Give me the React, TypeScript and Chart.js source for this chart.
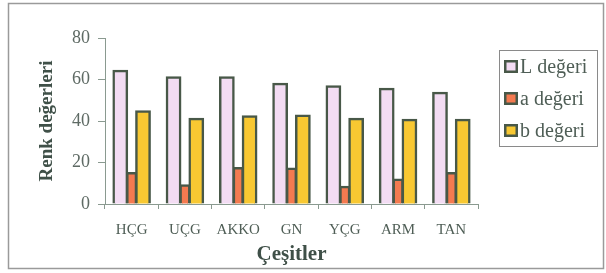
import React, { useEffect, useRef } from "react";
import { Chart, registerables } from "chart.js";

Chart.register(...registerables);

const categories = ["HÇG", "UÇG", "AKKO", "GN", "YÇG", "ARM", "TAN"];
const seriesNames = ["L değeri", "a değeri", "b değeri"];
const lValues = [64.5, 61.3, 61.3, 58.2, 57.0, 55.8, 53.8];
const aValues = [15.2, 9.3, 17.6, 17.3, 8.5, 12.0, 15.2];
const bValues = [45.0, 41.3, 42.5, 42.9, 41.3, 40.9, 40.9];
const fills = ["#f3dcf3", "#f47a50", "#f8c832"];
const yTicks = [0, 20, 40, 60, 80];

const BORDER = "#485848";
const TEXT = "#4f5e56";
const AXIS = "#8a9a90";

const framePlugin = {
  id: "framePlugin",
  afterDraw(chart: any) {
    const ctx = chart.ctx;
    ctx.save();
    ctx.strokeStyle = "#9a9a9a";
    ctx.lineWidth = 1.5;
    ctx.strokeRect(8.5, 3.5, 595, 265);
    // legend
    const bx = 499.5, by = 50.5, bw = 98, bh = 96;
    ctx.strokeStyle = "#8a8a8a";
    ctx.lineWidth = 1;
    ctx.strokeRect(bx, by, bw, bh);
    ctx.font = "20px 'Liberation Serif'";
    ctx.textBaseline = "middle";
    ctx.textAlign = "left";
    chart.data.datasets.forEach((ds: any, i: number) => {
      const cy = 66.5 + i * 32;
      ctx.fillStyle = ds.backgroundColor;
      ctx.fillRect(504, cy - 6.5, 14, 13);
      ctx.strokeStyle = BORDER;
      ctx.lineWidth = 2.5;
      ctx.strokeRect(505.25, cy - 5.25, 11.5, 10.5);
      ctx.fillStyle = TEXT;
      ctx.fillText(ds.label, 520, cy + 1);
    });
    ctx.restore();
  },
};

export default function App() {
  const ref = useRef<HTMLCanvasElement>(null);
  useEffect(() => {
    if (!ref.current) return;
    const values = [lValues, aValues, bValues];
    const chart = new Chart(ref.current, {
      type: "bar",
      data: {
        labels: categories,
        datasets: seriesNames.map((name, i) => ({
          label: name,
          data: values[i],
          backgroundColor: fills[i],
          borderColor: BORDER,
          borderWidth: 2.5,
          inflateAmount: 0.5,
          categoryPercentage: 0.64,
          barPercentage: i === 1 ? 0.9 : 1.3,
        })),
      },
      options: {
        responsive: false,
        animation: false,
        layout: { padding: { top: 38, right: 128, left: 0, bottom: 0 } },
        plugins: { legend: { display: false }, tooltip: { enabled: false } },
        scales: {
          x: {
            grid: { drawOnChartArea: false, color: AXIS, tickLength: 5, offset: true },
            border: { color: AXIS, width: 1 },
            ticks: {
              color: TEXT,
              padding: 12,
              font: { family: "Liberation Serif", size: 15 },
              maxRotation: 0,
            },
            title: {
              display: true,
              text: "Çeşitler",
              color: "#3f5048",
              font: { family: "Liberation Serif", size: 21, weight: "bold" },
              padding: { top: 0, bottom: 6 },
            },
            afterFit: (s: any) => {
              s.height = 69;
            },
          },
          y: {
            min: 0,
            max: 80,
            afterBuildTicks: (s: any) => {
              s.ticks = yTicks.map((v) => ({ value: v }));
            },
            grid: { drawOnChartArea: false, color: AXIS, tickLength: 7 },
            border: { color: AXIS, width: 1 },
            ticks: {
              color: "#5e6a64",
              padding: 8,
              font: { family: "Liberation Serif", size: 18 },
            },
            title: {
              display: true,
              text: "Renk değerleri",
              color: "#3f5048",
              font: { family: "Liberation Serif", size: 19, weight: "bold" },
              padding: { top: 36, bottom: 0 },
            },
            afterFit: (s: any) => {
              s.width = 105;
            },
          },
        },
      },
      plugins: [framePlugin],
    });
    return () => chart.destroy();
  }, []);
  return (
    <div style={{ position: "absolute", left: 0, top: 0, width: 606, height: 273, background: "#fff" }}>
      <canvas ref={ref} width={606} height={273} style={{ display: "block" }} />
    </div>
  );
}
